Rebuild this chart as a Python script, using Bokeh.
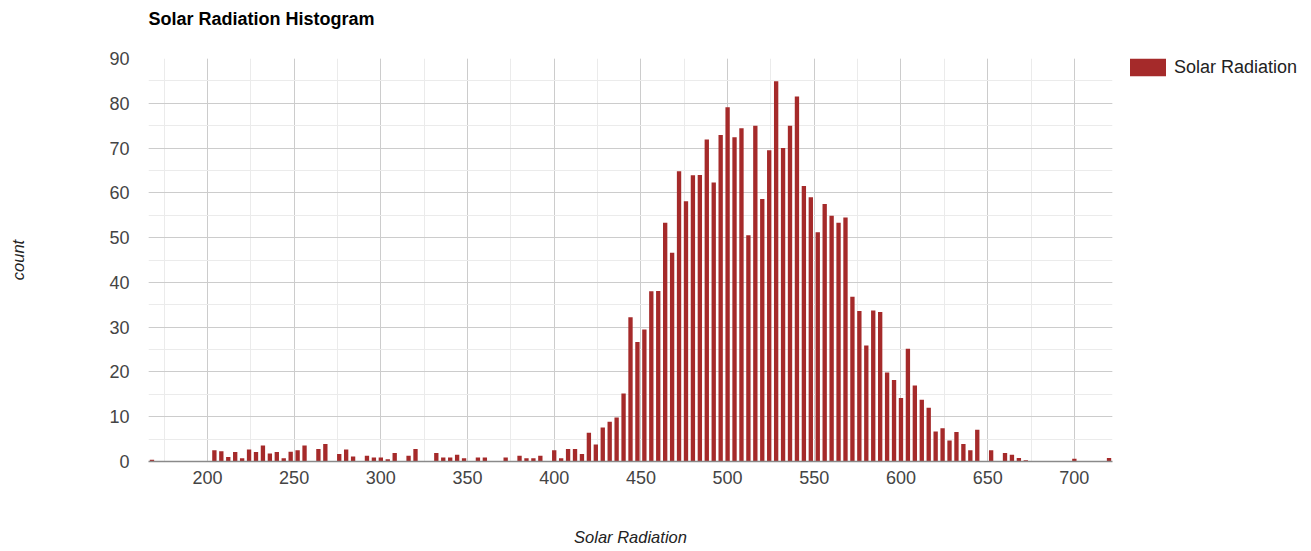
from bokeh.plotting import figure
from bokeh.models import SingleIntervalTicker, Legend, LegendItem, ColumnDataSource
from bokeh.embed import file_html
from bokeh.resources import INLINE

# bin centres (bucket width 4) and counts
bin_centers = list(range(168, 724, 4))
counts = [
    0.4, 0, 0, 0, 0, 0, 0, 0, 0,            # 168-200
    2.5, 2.3, 1.0, 2.1, 0.7, 2.7, 2.1, 3.6,  # 204-232
    1.8, 2.1, 0.7, 2.2, 2.5, 3.6, 0, 2.8,    # 236-264
    3.9, 0, 1.7, 2.7, 1.1, 0, 1.3, 0.9,      # 268-296
    0.9, 0.5, 1.9, 0, 1.3, 2.8, 0, 0,        # 300-328
    1.9, 0.9, 0.9, 1.5, 0.7, 0, 0.9, 0.9,    # 332-360
    0, 0, 0.9, 0, 1.3, 0.7, 0.7, 1.3,        # 364-392
    0, 2.5, 0.7, 2.8, 2.8, 1.7, 6.4, 3.8,    # 396-424
    7.6, 8.9, 9.8, 15.2, 32.2, 26.7, 29.5, 38.0,   # 428-456
    38.1, 53.3, 46.6, 64.8, 58.1, 63.9, 64.0, 71.9,  # 460-488
    62.3, 72.9, 79.1, 72.4, 74.4, 50.5, 75.0, 58.6,  # 492-520
    69.5, 84.9, 70.0, 75.0, 81.5, 61.5, 59.0, 51.2,  # 524-552
    57.5, 54.9, 53.3, 54.5, 36.8, 33.6, 25.9, 33.7,  # 556-584
    33.4, 19.9, 18.2, 14.2, 25.2, 17.0, 13.8, 12.0,  # 588-616
    6.7, 7.4, 4.7, 6.6, 3.9, 2.5, 7.1, 0,            # 620-648
    2.5, 0, 1.9, 1.5, 0.8, 0.3, 0, 0,                # 652-680
    0, 0, 0, 0, 0.6, 0, 0, 0,                        # 684-712
    0, 0.8,                                          # 716-720
]
assert len(counts) == len(bin_centers)

series_name = "Solar Radiation"
title_text = "Solar Radiation Histogram"
x_title = "Solar Radiation"
y_title = "count"

FONT = "Liberation Sans"
BAR = "#a52a2a"

src = ColumnDataSource(dict(x=bin_centers, top=counts))

p = figure(frame_width=964, frame_height=403, x_range=(166, 722), y_range=(0, 90),
           output_backend="svg", toolbar_location=None,
           min_border_left=148, min_border_right=183,
           min_border_top=58, min_border_bottom=78)
p.outline_line_color = None
p.background_fill_color = "white"
p.border_fill_color = "white"

r = p.vbar(x="x", top="top", width=2.5, bottom=0, source=src,
           fill_color=BAR, line_color=None)

# title
p.title.text = title_text
p.title.text_font = FONT
p.title.text_font_size = "18px"
p.title.text_font_style = "bold"
p.title.text_color = "#000000"
p.title.align = "left"
try:
    p.title.padding = dict(left=0, right=0, top=0, bottom=30)
    p.title.standoff = 0
except Exception:
    p.title.standoff = 36

# axes
xt = SingleIntervalTicker(interval=50, num_minor_ticks=2)
yt = SingleIntervalTicker(interval=10, num_minor_ticks=2)
p.xaxis.ticker = xt
p.yaxis.ticker = yt
p.xgrid.ticker = xt
p.ygrid.ticker = yt

for ax in (p.xaxis[0], p.yaxis[0]):
    ax.major_tick_line_color = None
    ax.minor_tick_line_color = None
    ax.major_label_text_font = FONT
    ax.major_label_text_font_size = "18px"
    ax.major_label_text_color = "#444444"
    ax.axis_label_text_font = FONT
    ax.axis_label_text_font_style = "italic"
    ax.axis_label_text_color = "#222222"
    ax.axis_label_text_font_size = "16.5px"

p.yaxis.axis_line_color = None
p.yaxis.major_label_standoff = 13
p.yaxis.axis_label = y_title
p.yaxis.axis_label_standoff = 79

p.xaxis.axis_line_color = "#8a8a8a"
p.xaxis.axis_line_width = 1.5
p.xaxis.major_label_standoff = 3
p.xaxis.axis_label = x_title
p.xaxis.axis_label_standoff = 41

p.xgrid.grid_line_color = "#cccccc"
p.ygrid.grid_line_color = "#cccccc"
p.xgrid.minor_grid_line_color = "#ebebeb"
p.ygrid.minor_grid_line_color = "#ebebeb"

legend = Legend(items=[LegendItem(label=series_name, renderers=[r])],
                location=(13, 383), orientation="vertical",
                glyph_width=45, glyph_height=22, label_height=22,
                label_standoff=4,
                padding=0, margin=0, spacing=0,
                label_text_font=FONT, label_text_font_size="18px",
                label_text_color="#222222",
                border_line_color=None, background_fill_alpha=0)
p.add_layout(legend, "right")

open("out.html", "w").write(file_html(p, INLINE))
